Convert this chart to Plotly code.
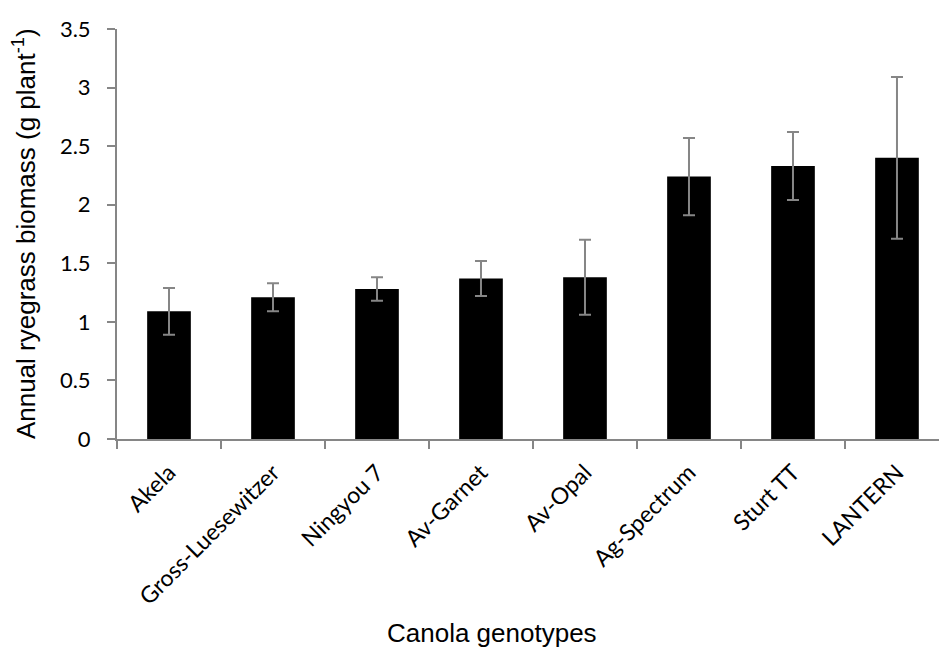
import plotly.graph_objects as go

# Annual ryegrass biomass under canola genotypes (mean ± error)
genotypes = ["Akela", "Gross-Luesewitzer", "Ningyou 7", "Av-Garnet",
             "Av-Opal", "Ag-Spectrum", "Sturt TT", "LANTERN"]
biomass = [1.09, 1.21, 1.28, 1.37, 1.38, 2.24, 2.33, 2.40]
error = [0.20, 0.12, 0.10, 0.15, 0.32, 0.33, 0.29, 0.69]

y_ticks = [0, 0.5, 1, 1.5, 2, 2.5, 3, 3.5]
y_tick_text = ["0", "0.5", "1", "1.5", "2", "2.5", "3", "3.5"]

x_title = "Canola genotypes"
y_title = "Annual ryegrass biomass (g plant<sup>-1</sup>)"

axis_grey = "#868686"
title_font = dict(family="Liberation Sans", size=26, color="#000000")
y_tick_font = dict(family="Lato", size=22, color="#000000")
x_tick_font = dict(family="Lato", size=23, color="#000000")

fig = go.Figure(
    go.Bar(
        x=genotypes,
        y=biomass,
        width=0.42,
        marker=dict(color="#000000", line=dict(width=0)),
        error_y=dict(type="data", array=error, visible=True,
                     color=axis_grey, thickness=2, width=6),
    )
)

fig.update_layout(
    width=939,
    height=647,
    margin=dict(l=117, r=0, t=29, b=208, pad=0),
    paper_bgcolor="white",
    plot_bgcolor="white",
    showlegend=False,
    font=dict(family="Lato", color="#000000"),
    annotations=[
        dict(text=x_title, xref="paper", yref="paper",
             x=0.456, y=-0.473, xanchor="center", yanchor="middle",
             showarrow=False, font=title_font),
        dict(text=y_title, xref="paper", yref="paper",
             x=-0.113, y=0.5, xanchor="center", yanchor="middle",
             textangle=-90, showarrow=False, font=title_font),
    ],
)

fig.update_xaxes(
    type="category",
    range=[-0.5, 7.404],
    showline=True,
    linecolor=axis_grey,
    linewidth=2,
    ticks="outside",
    tickson="boundaries",
    ticklen=8,
    tickwidth=1.5,
    tickcolor=axis_grey,
    tickangle=-45,
    ticklabelstandoff=9,
    tickfont=x_tick_font,
    showgrid=False,
)

fig.update_yaxes(
    range=[0, 3.5],
    tickvals=y_ticks,
    ticktext=y_tick_text,
    showline=True,
    linecolor=axis_grey,
    linewidth=2,
    ticks="outside",
    ticklen=8,
    tickwidth=1.5,
    tickcolor=axis_grey,
    ticklabelstandoff=12,
    tickfont=y_tick_font,
    showgrid=False,
    zeroline=False,
)

fig.write_html("out.html")
